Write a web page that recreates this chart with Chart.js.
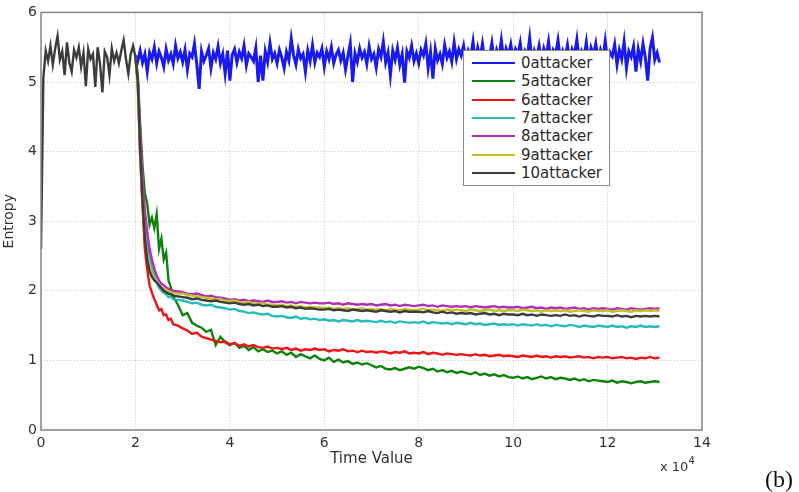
<!DOCTYPE html>
<html>
<head>
<meta charset="utf-8">
<script src="https://cdn.jsdelivr.net/npm/chart.js@4.4.1/dist/chart.umd.min.js"></script>
<style>
  html, body { margin: 0; padding: 0; background: #fff; }
  #wrap { position: relative; width: 799px; height: 492px; overflow: hidden; }
  #legend {
    position: absolute; left: 463px; top: 50px; width: 145px; height: 131px;
    border: 1px solid #8a8a8a; background: #fff; padding-top: 3px; box-sizing: content-box;
    font: 15px "DejaVu Sans", sans-serif; color: #2a2a2a;
  }
  #legend .row { display: flex; align-items: center; height: 18.3px; }
  #legend .ln { width: 43px; height: 2px; margin: 0 6px 0 8px; }
  .note { position: absolute; font-family: "DejaVu Sans", sans-serif; color: #333; }
</style>
</head>
<body>
<div id="wrap">
  <canvas id="c" width="799" height="492"></canvas>
  <div id="legend"></div>
  <div class="note" style="left:660px; top:457px; font-size:13px;">x 10<sup style="font-size:10px; position:relative; top:-2px;">4</sup></div>
  <div class="note" style="left:765px; top:466px; font: 24px 'Liberation Serif', serif; color:#111;">(b)</div>
</div>
<script>
// ── Data (x in units of 10^4) ────────────────────────────────────────────────
const LABELS = ['0attacker', '5attacker', '6attacker', '7attacker', '8attacker', '9attacker', '10attacker'];
const COLORS = ['#1a1aee', '#0c840c', '#f01414', '#24bcbc', '#b22eb8', '#c4bf22', '#3c3c3c'];

const grid = (start, step, n) => Array.from({ length: n }, (_, i) => +(start + i * step).toFixed(2));
const T_BLUE = grid(2.0, 0.05, 223);
const T_EARLY = grid(0, 0.05, 40);
const T_DECAY = grid(2.0, 0.05, 17).concat(grid(2.9, 0.1, 103));

const ATT0 = [
  5.38,5.30,5.45,5.28,5.40,5.15,5.42,5.33,5.50,5.27,5.44,5.35,5.22,5.47,5.31,5.40,5.26,5.52,5.34,5.43,
  5.29,5.46,5.18,5.41,5.36,5.55,5.25,4.90,5.44,5.30,5.38,5.48,5.20,5.42,5.33,5.51,5.27,5.40,5.12,5.45,
  5.02,5.39,5.47,5.28,5.43,5.34,5.52,5.24,5.41,5.36,5.30,5.49,5.00,5.38,5.02,5.44,5.29,5.56,5.33,5.41,
  5.27,5.46,5.35,5.20,5.43,5.31,5.62,5.38,5.25,5.47,5.34,5.40,5.15,5.45,5.30,5.53,5.28,5.42,5.36,5.48,
  5.22,5.44,5.33,5.50,5.27,5.39,5.46,5.31,5.42,5.18,5.37,5.55,5.00,5.41,5.29,5.48,5.35,5.43,5.26,5.51,
  5.33,5.40,5.21,5.47,5.36,5.58,5.28,5.42,5.10,5.45,5.32,5.49,5.25,5.40,4.99,5.44,5.35,5.52,5.30,5.41,
  5.27,5.46,5.38,5.55,5.20,5.43,5.05,5.48,5.31,5.40,5.26,5.53,5.35,5.44,5.29,5.57,5.33,5.47,5.38,5.52,
  5.30,5.45,5.36,5.58,5.28,5.49,5.34,5.55,5.31,5.42,5.37,5.56,5.29,5.46,5.35,5.60,5.32,5.48,5.38,5.54,
  5.33,5.47,5.39,5.56,5.30,5.44,5.36,5.63,5.28,5.45,5.35,5.52,5.31,5.48,5.37,5.58,5.29,5.46,5.40,5.60,
  5.32,5.45,5.36,5.53,5.28,5.47,5.39,5.61,5.30,5.44,5.35,5.57,5.27,5.49,5.38,5.55,5.31,5.46,5.34,5.59,
  5.29,5.43,5.37,5.54,5.25,5.46,5.33,5.58,5.20,5.44,5.36,5.51,5.15,5.47,5.30,5.55,5.35,5.02,5.48,5.64,
  5.32,5.42,5.28,
];

// 10attacker before the attack starts (t = 0 .. 1.95)
const ATT10_EARLY = [
  2.60,5.06,5.45,5.30,5.52,5.25,5.48,5.66,5.32,5.44,5.10,5.57,5.28,5.15,5.46,5.35,5.50,5.22,5.42,4.94,
  5.47,5.33,5.40,4.93,5.50,5.26,4.85,5.44,5.36,5.10,5.48,5.30,5.42,5.27,5.45,5.60,5.33,5.12,5.40,5.52,
];

const ATT5 = [
  5.36,5.10,4.40,3.80,3.40,3.25,2.95,3.05,2.90,3.10,2.60,2.75,2.45,2.55,2.15,2.05,1.92,
  1.80,1.65,1.68,1.54,1.50,1.47,1.41,1.44,1.22,1.34,
  1.26,1.22,1.25,1.18,1.21,1.15,1.19,1.13,1.16,1.12,
  1.14,1.10,1.13,1.08,1.11,1.05,1.09,1.06,1.03,1.07,
  1.02,1.00,1.04,0.98,1.01,0.97,0.99,0.95,0.97,0.94,
  0.96,0.93,0.90,0.92,0.88,0.87,0.89,0.86,0.88,0.90,
  0.88,0.91,0.89,0.86,0.88,0.84,0.86,0.83,0.85,0.82,
  0.84,0.82,0.80,0.83,0.79,0.81,0.78,0.80,0.77,0.79,
  0.76,0.75,0.77,0.74,0.76,0.73,0.75,0.77,0.74,0.76,
  0.73,0.75,0.74,0.72,0.74,0.71,0.73,0.70,0.72,0.71,
  0.70,0.69,0.71,0.68,0.70,0.69,0.67,0.69,0.70,0.68,
  0.69,0.70,0.69,
];
const ATT6 = [
  5.36,5.00,4.00,3.20,2.60,2.30,2.08,1.97,1.88,1.80,1.72,1.74,1.65,1.66,1.58,1.60,1.52,
  1.50,1.46,1.43,1.38,1.40,1.34,1.32,1.30,1.28,1.26,
  1.27,1.23,1.25,1.21,1.23,1.20,1.22,1.19,1.18,1.20,
  1.17,1.18,1.16,1.18,1.15,1.17,1.14,1.16,1.15,1.17,
  1.15,1.16,1.13,1.15,1.14,1.16,1.13,1.14,1.12,1.14,
  1.12,1.13,1.11,1.13,1.12,1.10,1.12,1.11,1.13,1.10,
  1.11,1.10,1.12,1.09,1.11,1.10,1.08,1.10,1.09,1.08,
  1.09,1.08,1.07,1.09,1.07,1.08,1.06,1.07,1.08,1.06,
  1.07,1.06,1.05,1.07,1.06,1.05,1.07,1.05,1.06,1.04,
  1.06,1.05,1.06,1.04,1.05,1.06,1.04,1.05,1.03,1.05,
  1.04,1.05,1.03,1.04,1.05,1.03,1.04,1.02,1.04,1.03,
  1.05,1.03,1.04,
];
const ATT7 = [
  5.36,5.00,4.20,3.50,3.00,2.70,2.50,2.35,2.22,2.12,2.05,2.00,1.97,1.95,1.91,1.92,1.88,
  1.87,1.86,1.84,1.82,1.83,1.80,1.79,1.80,1.77,1.76,
  1.75,1.73,1.74,1.71,1.70,1.68,1.69,1.67,1.66,1.67,
  1.64,1.63,1.64,1.62,1.61,1.63,1.60,1.61,1.59,1.60,
  1.58,1.59,1.57,1.58,1.56,1.58,1.57,1.56,1.58,1.56,
  1.57,1.56,1.55,1.57,1.55,1.56,1.54,1.56,1.55,1.54,
  1.55,1.54,1.56,1.53,1.55,1.54,1.53,1.54,1.52,1.54,
  1.53,1.52,1.54,1.52,1.53,1.51,1.52,1.53,1.51,1.52,
  1.51,1.52,1.50,1.52,1.51,1.50,1.52,1.50,1.51,1.49,
  1.51,1.50,1.49,1.51,1.50,1.48,1.50,1.49,1.48,1.50,
  1.49,1.48,1.50,1.48,1.49,1.47,1.49,1.48,1.50,1.48,
  1.49,1.48,1.49,
];
const ATT8 = [
  5.36,5.05,4.30,3.60,3.15,2.85,2.60,2.45,2.32,2.22,2.15,2.10,2.08,2.05,2.03,2.01,2.00,
  1.99,1.98,1.96,1.95,1.96,1.94,1.92,1.93,1.91,1.90,
  1.89,1.87,1.88,1.86,1.87,1.85,1.86,1.85,1.84,1.86,
  1.84,1.84,1.85,1.83,1.84,1.82,1.84,1.83,1.82,1.83,
  1.82,1.82,1.83,1.81,1.82,1.80,1.82,1.81,1.80,1.81,
  1.80,1.81,1.79,1.80,1.81,1.79,1.80,1.78,1.80,1.79,
  1.78,1.79,1.80,1.78,1.79,1.77,1.79,1.78,1.77,1.78,
  1.77,1.78,1.76,1.78,1.77,1.76,1.77,1.78,1.76,1.77,
  1.76,1.76,1.77,1.75,1.76,1.77,1.75,1.76,1.74,1.76,
  1.75,1.76,1.74,1.75,1.76,1.74,1.75,1.73,1.75,1.74,
  1.75,1.74,1.73,1.75,1.74,1.73,1.75,1.74,1.73,1.74,
  1.75,1.74,1.75,
];
const ATT9 = [
  5.36,4.90,3.90,3.30,2.80,2.50,2.35,2.25,2.18,2.12,2.08,2.05,2.03,2.01,1.99,1.98,1.97,
  1.96,1.96,1.94,1.93,1.92,1.91,1.90,1.89,1.88,1.88,
  1.86,1.85,1.86,1.84,1.83,1.84,1.82,1.81,1.82,1.80,
  1.80,1.79,1.80,1.78,1.79,1.77,1.78,1.76,1.77,1.76,
  1.76,1.75,1.76,1.74,1.75,1.74,1.75,1.73,1.74,1.75,
  1.73,1.74,1.73,1.74,1.72,1.74,1.73,1.72,1.74,1.73,
  1.72,1.73,1.74,1.72,1.73,1.72,1.71,1.73,1.72,1.73,
  1.72,1.71,1.73,1.72,1.71,1.72,1.73,1.71,1.72,1.71,
  1.72,1.72,1.71,1.73,1.72,1.71,1.72,1.70,1.72,1.71,
  1.72,1.71,1.72,1.70,1.71,1.72,1.71,1.70,1.72,1.71,
  1.71,1.72,1.70,1.71,1.72,1.71,1.70,1.72,1.71,1.72,
  1.71,1.72,1.71,
];
const ATT10 = [
  5.36,5.00,4.00,3.30,2.75,2.45,2.28,2.20,2.15,2.12,2.08,2.04,2.00,1.98,1.96,1.95,1.93,
  1.92,1.91,1.90,1.88,1.89,1.87,1.86,1.85,1.86,1.84,
  1.83,1.82,1.83,1.81,1.80,1.81,1.79,1.80,1.78,1.79,
  1.77,1.77,1.78,1.76,1.77,1.75,1.76,1.74,1.75,1.74,
  1.73,1.73,1.74,1.72,1.73,1.72,1.71,1.73,1.72,1.71,
  1.72,1.71,1.70,1.72,1.71,1.70,1.71,1.69,1.71,1.70,
  1.70,1.70,1.69,1.71,1.69,1.68,1.70,1.68,1.69,1.67,
  1.68,1.67,1.68,1.66,1.67,1.68,1.66,1.67,1.65,1.67,
  1.66,1.66,1.65,1.67,1.65,1.66,1.64,1.66,1.65,1.64,
  1.65,1.64,1.66,1.64,1.65,1.63,1.65,1.64,1.63,1.65,
  1.64,1.64,1.63,1.65,1.63,1.64,1.62,1.64,1.63,1.64,
  1.63,1.64,1.63,
];

const X_TICKS = [0, 2, 4, 6, 8, 10, 12, 14];
const Y_TICKS = [0, 1, 2, 3, 4, 5, 6];

// ── Build datasets ───────────────────────────────────────────────────────────
const pts = (ts, ys) => ys.map((y, i) => ({ x: ts[i], y }));
const SERIES = [
  pts(T_BLUE, ATT0),
  pts(T_DECAY, ATT5),
  pts(T_DECAY, ATT6),
  pts(T_DECAY, ATT7),
  pts(T_DECAY, ATT8),
  pts(T_DECAY, ATT9),
  pts(T_EARLY, ATT10_EARLY).concat(pts(T_DECAY, ATT10)),
];

const datasets = SERIES.map((data, i) => ({
  label: LABELS[i],
  data,
  borderColor: COLORS[i],
  borderWidth: i === 0 ? 3 : 2.4,
  pointRadius: 0,
  tension: 0,
  fill: false,
  order: SERIES.length - i,
}));

// MATLAB-style box round the plot area
const frame = {
  id: 'frame',
  afterDatasetsDraw(chart) {
    const { ctx, chartArea: a } = chart;
    ctx.save();
    ctx.strokeStyle = '#858585';
    ctx.lineWidth = 1.5;
    ctx.strokeRect(a.left, a.top, a.right - a.left, a.bottom - a.top);
    ctx.restore();
  },
};

const tickFont = { family: 'DejaVu Sans', size: 14 };
const gridOpts = { color: '#c4c4c4', lineWidth: 1, drawTicks: false };

new Chart(document.getElementById('c'), {
  type: 'line',
  data: { datasets },
  plugins: [frame],
  options: {
    responsive: false,
    animation: false,
    events: [],
    layout: { padding: { top: 12, right: 97, left: 0, bottom: 0 } },
    plugins: { legend: { display: false }, tooltip: { enabled: false } },
    scales: {
      x: {
        type: 'linear', min: 0, max: 14,
        afterBuildTicks: (s) => { s.ticks = X_TICKS.map((v) => ({ value: v })); },
        afterFit: (s) => { s.height = 62; },
        ticks: { font: tickFont, color: '#333', padding: 5, maxRotation: 0 },
        grid: gridOpts,
        border: { display: false, dash: [1, 2] },
        title: { display: true, text: 'Time Value', color: '#333', font: { family: 'DejaVu Sans', size: 15 }, padding: { top: 0, bottom: 24 } },
      },
      y: {
        type: 'linear', min: 0, max: 6,
        afterBuildTicks: (s) => { s.ticks = Y_TICKS.map((v) => ({ value: v })); },
        afterFit: (s) => { s.width = 41; },
        ticks: { font: tickFont, color: '#333', padding: 4 },
        grid: gridOpts,
        border: { display: false, dash: [1, 2] },
        title: { display: true, text: 'Entropy', color: '#333', font: { family: 'DejaVu Sans', size: 14 }, padding: { top: 1, bottom: 0 } },
      },
    },
  },
});

// ── Legend box inside the axes ───────────────────────────────────────────────
document.getElementById('legend').innerHTML = LABELS.map((l, i) =>
  `<div class="row"><span class="ln" style="background:${COLORS[i]}"></span><span>${l}</span></div>`).join('');
</script>
</body>
</html>
